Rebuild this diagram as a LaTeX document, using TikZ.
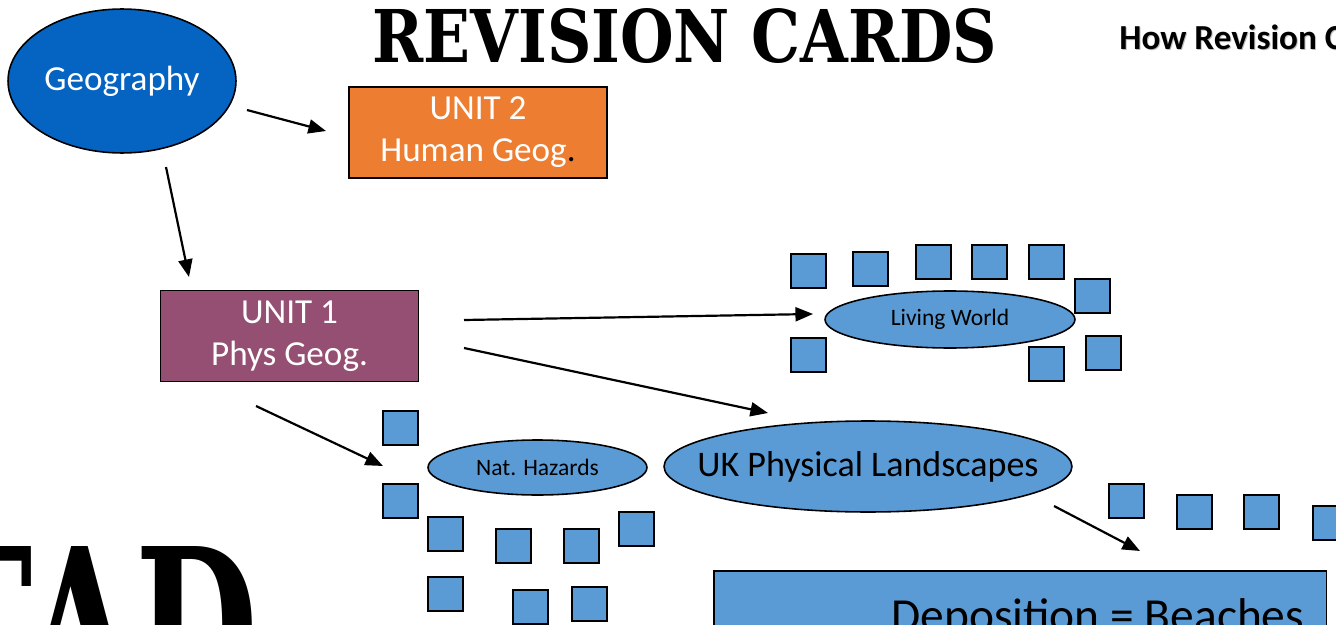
\documentclass[tikz,border=0pt]{standalone}
\usepackage{fontspec}
\setmainfont{Carlito}
\newfontfamily\stencilfont{DejaVu Serif}
\usetikzlibrary{arrows.meta,shapes.geometric}
\definecolor{geoblue}{HTML}{0563C1}
\definecolor{unitorange}{HTML}{ED7D31}
\definecolor{unitpurple}{HTML}{954F72}
\definecolor{cardblue}{HTML}{5B9BD5}
\tikzset{
	arr/.style={line width=1.25pt, -{Triangle[length=10pt,width=8pt]}},
	card/.style={draw=black, fill=cardblue, line width=0.9pt},
	unitbox/.style={draw=black, line width=0.9pt, minimum width=5.16cm, minimum height=1.82cm, inner sep=0pt, text=white, align=center, font=\fontsize{20}{24}\selectfont},
	topic/.style={ellipse, draw=black, fill=cardblue, line width=0.9pt, inner sep=0pt, font=\fontsize{13.4}{16}\selectfont}
}

\begin{document}
\begin{tikzpicture}[x=0.02cm, y=-0.02cm]
				\clip (0,0) rectangle (1336,625);
				
				\node[anchor=north west, inner sep=0pt] (title) at (372,8) {\resizebox{12.5cm}{1.08cm}{\stencilfont\bfseries REVISION CARDS}};
				\node[anchor=base west, inner sep=0pt, text=black!25, font=\bfseries\fontsize{20}{24}\selectfont] (howshadow) at (1120,51) {How Revision C};
				\node[anchor=base west, inner sep=0pt, font=\bfseries\fontsize{20}{24}\selectfont] (how) at (1119,50) {How Revision C};
				\node[anchor=north east, inner sep=0pt] (tad) at (258,546) {\resizebox{6.6cm}{3.2cm}{\stencilfont\bfseries TAD}};
				
				\node[ellipse, draw=black, fill=geoblue, line width=0.9pt, minimum width=4.56cm, minimum height=2.88cm, inner sep=0pt, text=white, font=\fontsize{20}{24}\selectfont] (geo) at (122,81) {Geography};
				\node[unitbox, fill=unitorange] (unit2) at (478,132.5) {UNIT 2\\Human Geog\textcolor{black}{.}};
				\node[unitbox, fill=unitpurple] (unit1) at (289.5,336) {UNIT 1\\Phys Geog.};
				
				\node[topic, minimum width=5cm, minimum height=1.14cm] (living) at (950,319.5) {Living World};
				\node[topic, minimum width=4.38cm, minimum height=1.1cm] (nat) at (537.5,467.5) {Nat. Hazards};
				\node[topic, inner xsep=-0.55cm, minimum width=8.16cm, minimum height=1.82cm, font=\fontsize{20.5}{24}\selectfont] (uk) at (868,466.5) {UK Physical Landscapes};
				
				\node[draw=black, fill=cardblue, line width=0.9pt, minimum width=12.26cm, minimum height=2.4cm, anchor=north west] (dep) at (713,570) {};
				\node[anchor=base west, inner sep=0pt, font=\fontsize{27}{32}\selectfont] (deptext) at (891,631) {Deposition = Beaches};
				
				\coordinate (geoout) at (247,110);
				\coordinate (unit2in) at (326,131);
				\coordinate (geodown) at (166,167);
				\coordinate (unit1in) at (189,277);
				\coordinate (unit1r) at (464,320);
				\coordinate (livingin) at (813,314);
				\coordinate (unit1rr) at (464,348);
				\coordinate (ukin) at (768,413);
				\coordinate (unit1b) at (256,406);
				\coordinate (natin) at (383,466);
				\coordinate (ukout) at (1054,506);
				\coordinate (depin) at (1140,551);
				
				\draw[arr] (geoout) -- (unit2in);
				\draw[arr] (geodown) -- (unit1in);
				\draw[arr] (unit1r) -- (livingin);
				\draw[arr] (unit1rr) -- (ukin);
				\draw[arr] (unit1b) -- (natin);
				\draw[arr] (ukout) -- (depin);
				
				\draw[card] (791,254) rectangle +(35,34);
				\draw[card] (853,252) rectangle +(35,34);
				\draw[card] (916,245) rectangle +(35,34);
				\draw[card] (972,245) rectangle +(35,34);
				\draw[card] (1029,245) rectangle +(35,34);
				\draw[card] (1075,279) rectangle +(35,34);
				\draw[card] (791,338) rectangle +(35,34);
				\draw[card] (1029,347) rectangle +(35,34);
				\draw[card] (1086,336) rectangle +(35,34);
				
				\draw[card] (383,411) rectangle +(35,34);
				\draw[card] (383,484) rectangle +(35,34);
				\draw[card] (428,517) rectangle +(35,34);
				\draw[card] (496,529) rectangle +(35,34);
				\draw[card] (564,529) rectangle +(35,34);
				\draw[card] (619,512) rectangle +(35,34);
				\draw[card] (428,577) rectangle +(35,34);
				\draw[card] (513,590) rectangle +(35,34);
				\draw[card] (572,587) rectangle +(35,34);
				
				\draw[card] (1109,484) rectangle +(35,34);
				\draw[card] (1177,495) rectangle +(35,34);
				\draw[card] (1244,495) rectangle +(35,34);
				\draw[card] (1313,506) rectangle +(35,34);
			\end{tikzpicture}
\end{document}
